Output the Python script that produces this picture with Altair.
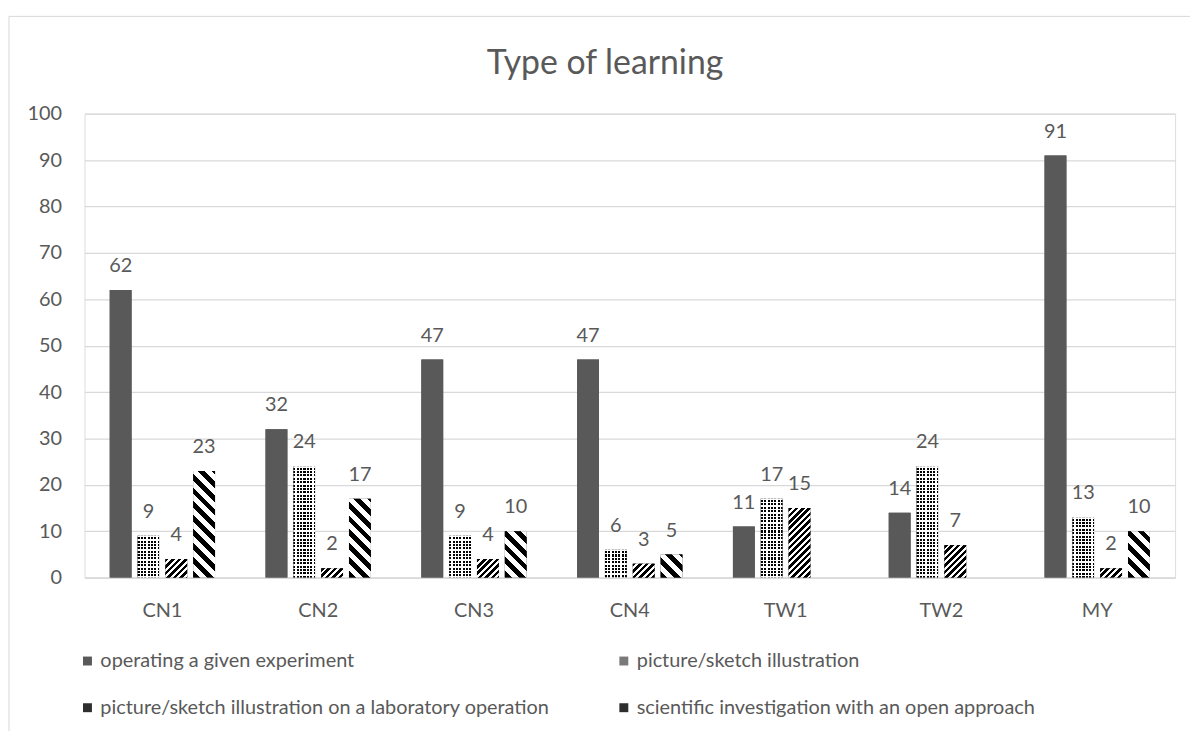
import math
import altair as alt

# ---------------- data ----------------
categories = ["CN1", "CN2", "CN3", "CN4", "TW1", "TW2", "MY"]
series = [
    "operating a given experiment",
    "picture/sketch  illustration",
    "picture/sketch illustration on a laboratory operation",
    "scientific investigation  with an open approach",
]
operating = [62, 32, 47, 47, 11, 14, 91]
sketch = [9, 24, 9, 6, 17, 24, 13]
laboratory = [4, 2, 4, 3, 15, 7, 2]
investigation = [23, 17, 10, 5, None, None, 10]
title_text = "Type of learning"

# ---------------- layout / style ----------------
FONT = "Lato"
TXT = "#595959"
GRID = "#d9d9d9"
FS = 20
PLOT_W, PLOT_H, Y_MAX = 1098, 467, 100
X_PAD, OFF_PAD = 0.324, 0.214

step = PLOT_W / len(categories)
group_w = step * (1 - X_PAD)
bar_step = group_w / (len(series) - OFF_PAD)
BAR_W = bar_step * (1 - OFF_PAD)


def hard_stops(total, period, frac, on, off):
    stops = []
    n = int(math.ceil(total / period))
    for k in range(n):
        a = k * period / total
        m = min(1.0, a + frac * period / total)
        b = min(1.0, (k + 1) * period / total)
        stops += [{"offset": a, "color": on}, {"offset": m, "color": on},
                  {"offset": m, "color": off}, {"offset": b, "color": off}]
    return stops


def diag(w, h, kind, period, frac):
    d = w * w + h * h
    if kind == "back":  # "\" stripes
        g = {"gradient": "linear", "x1": 0, "y1": 1,
             "x2": w * (w + h) / d, "y2": 1 - h * (w + h) / d}
    else:  # "/" stripes
        g = {"gradient": "linear", "x1": 0, "y1": 0,
             "x2": w * (w + h) / d, "y2": h * (w + h) / d}
    g["stops"] = hard_stops(w + h, period, frac, "#000000", "#ffffff")
    return g


def straight(length, vertical, period, frac, on, off):
    g = {"gradient": "linear", "x1": 0, "y1": 0,
         "x2": 1 if vertical else 0, "y2": 0 if vertical else 1}
    g["stops"] = hard_stops(length, period, frac, on, off)
    return g


rows = []
all_vals = [operating, sketch, laboratory, investigation]
for i, cat in enumerate(categories):
    for j, s in enumerate(series):
        v = all_vals[j][i]
        if v is None:
            continue
        h = max(v * PLOT_H / Y_MAX, 1)
        if j == 0:
            pat, pat2 = "#595959", "transparent"
        elif j == 1:
            pat = straight(BAR_W, True, 3.4, 0.6, "#000000", "#ffffff")
            pat2 = straight(h, False, 3.4, 0.4, "#ffffff", "rgba(255,255,255,0)")
        elif j == 2:
            pat, pat2 = diag(BAR_W, h, "fwd", 6.5, 0.55), "transparent"
        else:
            pat, pat2 = diag(BAR_W, h, "back", 14, 0.5), "transparent"
        rows.append({"category": cat, "series": s, "value": v,
                     "pattern": pat, "pattern2": pat2})

data = alt.Data(values=rows)

x_enc = alt.X("category:N", sort=categories,
              scale=alt.Scale(domain=categories, paddingInner=X_PAD, paddingOuter=X_PAD / 2),
              axis=alt.Axis(title=None, labelAngle=0, ticks=False, domainColor=GRID,
                            domainWidth=1.3, labelPadding=23, labelFontSize=FS,
                            labelColor=TXT, labelFont=FONT, grid=False))
xo_enc = alt.XOffset("series:N", sort=series,
                     scale=alt.Scale(domain=series, paddingInner=OFF_PAD, paddingOuter=0))
y_enc = alt.Y("value:Q", scale=alt.Scale(domain=[0, Y_MAX]),
              axis=alt.Axis(title=None, values=list(range(0, 101, 10)), ticks=False,
                            domain=False, gridColor=GRID, gridWidth=1.3, labelPadding=23,
                            labelFontSize=FS, labelColor=TXT, labelFont=FONT))

base = alt.Chart(data).encode(x=x_enc, xOffset=xo_enc, y=y_enc)

legend_bars = base.mark_bar().encode(
    color=alt.Color("series:N", sort=series,
                    scale=alt.Scale(domain=series,
                                    range=["#595959", "#7a7a7a", "#2e2e2e", "#2e2e2e"]),
                    legend=alt.Legend(title=None, orient="none", legendX=-7, legendY=541,
                                      direction="horizontal", columns=2, columnPadding=64,
                                      rowPadding=27, symbolType="square", symbolSize=81,
                                      symbolStrokeWidth=0, labelFontSize=FS,
                                      labelColor=TXT, labelFont=FONT, labelLimit=2000,
                                      labelOffset=3, padding=0))
)

pattern_bars = base.mark_bar().encode(fill=alt.Fill("pattern:N", scale=None))
checker_bars = base.transform_filter(
    alt.datum.series == series[1]
).mark_bar().encode(fill=alt.Fill("pattern2:N", scale=None))

labels = base.mark_text(dy=-18, baseline="alphabetic", fontSize=FS, color=TXT,
                        font=FONT).encode(text="value:Q")

frame = alt.Chart(alt.Data(values=[{}])).mark_rect(
    fillOpacity=0, stroke=GRID, strokeWidth=1
).encode(x=alt.value(-76), x2=alt.value(1300), y=alt.value(-98), y2=alt.value(700))

title = alt.Chart(alt.Data(values=[{"t": title_text}])).mark_text(
    fontSize=34, color=TXT, font=FONT, baseline="alphabetic", align="center"
).encode(x=alt.value(524), y=alt.value(-40), text="t:N")

chart = alt.layer(frame, legend_bars, pattern_bars, checker_bars, labels, title).properties(
    width=PLOT_W, height=PLOT_H,
    autosize=alt.AutoSizeParams(type="none"),
    padding={"left": 77, "top": 104, "right": 15, "bottom": 152},
).configure_view(stroke=None).configure(background="white")

chart.save("out.html", embed_options={"renderer": "svg", "actions": False})
